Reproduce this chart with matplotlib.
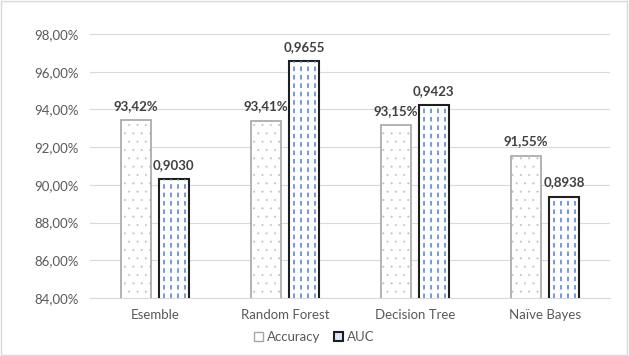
import numpy as np
import matplotlib
matplotlib.use("Agg")
import matplotlib.pyplot as plt
from matplotlib.patches import Rectangle

# dados
modelos = ["Esemble", "Random Forest", "Decision Tree", "Naïve Bayes"]
accuracy = [93.42, 93.41, 93.15, 91.55]
auc = [0.9030, 0.9655, 0.9423, 0.8938]
yticks = [84, 86, 88, 90, 92, 94, 96, 98]

plt.rcParams['font.family'] = ['Lato', 'DejaVu Sans']
plt.rcParams['hatch.linewidth'] = 0.2

fig = plt.figure(figsize=(6.29, 3.56), dpi=100)
ax = fig.add_axes([90 / 629, 58 / 356, 520 / 629, 264 / 356])

x = np.arange(len(modelos))
w = 0.23
gap = 0.03
auc_pct = [v * 100 for v in auc]

# barras de accuracy (pontilhadas)
plt.rcParams['hatch.color'] = '#bdbdbd'
b1 = ax.bar(x - w / 2 - gap, accuracy, w, bottom=0, color='white',
            edgecolor='#a6a6a6', linewidth=1.2, hatch='..', zorder=3)
for r in b1:
    r._hatch_color = matplotlib.colors.to_rgba('#bdbdbd')

# barras de AUC (tracejado azul)
b2 = ax.bar(x + w / 2 + gap, auc_pct, w, color='white',
            edgecolor='#1f1f1f', linewidth=1.5, zorder=4)
for r in b2:
    x0 = r.get_x()
    for k in range(1, 5):
        xl = x0 + r.get_width() * (k - 0.3) / 4.2
        ln = ax.vlines(xl, 84, r.get_height(), colors='#4f7fd6',
                       linestyles=(0, (3, 2.5)), linewidth=1.1, zorder=5)
        ln.set_clip_path(r)

for r, v in zip(b1, accuracy):
    ax.annotate(f"{v:.2f}%".replace('.', ','), (r.get_x() + r.get_width() / 2, v),
                xytext=(0, 6), textcoords='offset points', ha='center', va='bottom',
                fontsize=9.5, fontweight='bold', color='#404040', zorder=6)
for r, v in zip(b2, auc):
    ax.annotate(f"{v:.4f}".replace('.', ','), (r.get_x() + r.get_width() / 2, v * 100),
                xytext=(0, 6), textcoords='offset points', ha='center', va='bottom',
                fontsize=9.5, fontweight='bold', color='#404040', zorder=6)

ax.set_ylim(84, 98)
ax.set_xlim(-0.5, len(modelos) - 0.5)
ax.set_yticks(yticks)
ax.set_yticklabels([f"{t:.2f}%".replace('.', ',') for t in yticks], fontsize=9.5, color='#595959')
ax.set_xticks(x)
ax.set_xticklabels(modelos, fontsize=9.5, color='#595959')
ax.tick_params(length=0, pad=8)
ax.grid(axis='y', color='#d9d9d9', linewidth=0.8, zorder=0)
for s in ['top', 'right', 'left']:
    ax.spines[s].set_visible(False)
ax.spines['bottom'].set_color('#d9d9d9')

leg = fig.legend([Rectangle((0, 0), 1, 1, fc='white', ec='#a6a6a6', lw=1),
                  Rectangle((0, 0), 1, 1, fc='#dbe5f5', ec='#1f1f1f', lw=1.5)],
                 ['Accuracy', 'AUC'], loc='center', bbox_to_anchor=(0.5, 1 - 337 / 356),
                 ncol=2, frameon=False, fontsize=9.5, handlelength=0.7, handleheight=0.7,
                 handletextpad=0.3, columnspacing=1.0)
for t in leg.get_texts():
    t.set_color('#595959')

fig.patches.append(Rectangle((0.002, 0.003), 0.995, 0.993, transform=fig.transFigure,
                             fill=False, ec='#d9d9d9', lw=1))

fig.savefig('out.png', dpi=100)
